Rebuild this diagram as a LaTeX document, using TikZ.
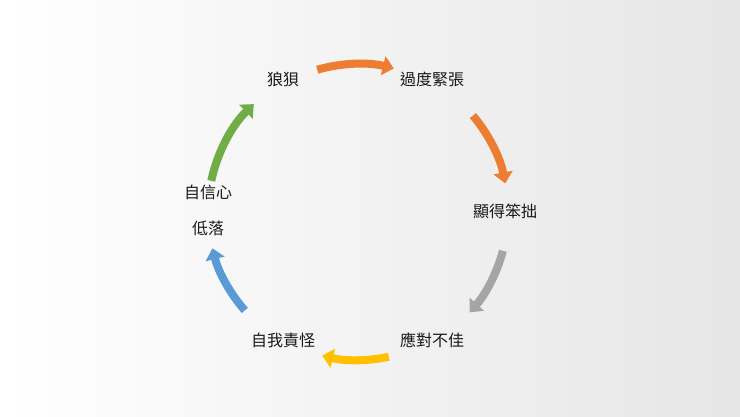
\documentclass[tikz,border=0pt]{standalone}
\usepackage{fontspec}
\newfontfamily\cjk{Noto Sans CJK TC}
\usetikzlibrary{arrows.meta,calc}
\definecolor{corange}{HTML}{ED7D31}
\definecolor{cgray}{HTML}{A5A5A5}
\definecolor{cyellow}{HTML}{FFC000}
\definecolor{cblue}{HTML}{5B9BD5}
\definecolor{cgreen}{HTML}{70AD47}
\begin{document}
\begin{tikzpicture}[x=1pt,y=1pt,
  lbl/.style={font=\cjk\fontsize{16}{18}\selectfont, text=black!90},
  cyc/.style={line width=8pt, -{Triangle[length=11pt,width=19pt]}}]
\shade[shading=axis, shading angle=120, left color=white, right color=black!10] (0,0) rectangle (740,-416);
\useasboundingbox (0,0) rectangle (740,-416);
\coordinate (c) at (358,-212);
\node[lbl] (a) at (283,-79) {狼狽};
\node[lbl] (b) at (432,-79) {過度緊張};
\node[lbl] (d) at (505,-211) {顯得笨拙};
\node[lbl] (e) at (432,-340) {應對不佳};
\node[lbl] (f) at (283,-340) {自我責怪};
\node[lbl, align=center, font=\cjk\fontsize{16}{36}\selectfont] (g) at (208,-210) {自信心\\低落};
\draw[cyc, corange] ($(c)+(106:148)$) arc (106:76:148);
\draw[cyc, corange] ($(c)+(40:150)$) arc (40:11:150);
\draw[cyc, cgray] ($(c)+(-15:150)$) arc (-15:-42:150);
\draw[cyc, cyellow] ($(c)+(-78:148)$) arc (-78:-104:148);
\draw[cyc, cblue] ($(c)+(-139:150)$) arc (-139:-166:150);
\draw[cyc, cgreen] ($(c)+(168:150)$) arc (168:134:150);
\end{tikzpicture}
\end{document}
